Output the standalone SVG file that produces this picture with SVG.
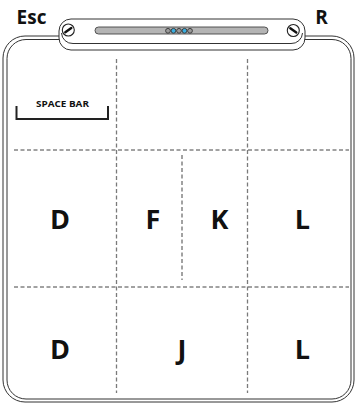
<svg xmlns="http://www.w3.org/2000/svg" width="355" height="403" viewBox="0 0 355 403">
<style>
.edge{fill:none;stroke:#333;stroke-width:1}
.vd{stroke:#7a7a7a;stroke-width:1.3;stroke-dasharray:4 2.5;fill:none}
.hd{stroke:#444;stroke-width:1;stroke-dasharray:4 2.5;fill:none}
.key{font-family:"Open Sans","Liberation Sans",sans-serif;font-weight:700;fill:#111;text-anchor:middle}
.big{font-size:27px}
.lbl{font-size:19px}
.dot{stroke:#333;stroke-width:0.9}
</style>
<rect width="355" height="403" fill="#fff"/>
<g id="body">
<rect class="edge" x="3" y="36" width="351" height="366" rx="22"/>
<rect class="edge" x="7" y="39.5" width="344" height="359.5" rx="19"/>
</g>
<g id="bar">
<path d="M71,19 H293 A12,12 0 0 1 305,31 V38 A12,12 0 0 1 293,50 H71 A12,12 0 0 1 59,38 V31 A12,12 0 0 1 71,19 Z" fill="#fff" stroke="#333" stroke-width="1"/>
<path class="edge" d="M61.5,33 A11,11 0 0 0 73,43.5 H291 A11,11 0 0 0 302.5,33"/>
<rect x="95" y="27" width="173" height="7" rx="3.5" fill="#b4b4b4" stroke="#444" stroke-width="0.9"/>
<circle class="dot" cx="168" cy="30.8" r="2.4" fill="#9a9a9a"/>
<circle class="dot" cx="173.5" cy="30.8" r="2.4" fill="#3aaee0"/>
<circle class="dot" cx="179" cy="30.8" r="2.4" fill="#9a9a9a"/>
<circle class="dot" cx="184.5" cy="30.8" r="2.4" fill="#3aaee0"/>
<circle class="dot" cx="190" cy="30.8" r="2.4" fill="#9a9a9a"/>
</g>
<g id="screw-left">
<circle cx="68.3" cy="30" r="6" fill="#fff" stroke="#222" stroke-width="1.1"/>
<line x1="65.3" y1="32.3" x2="71.3" y2="28" stroke="#111" stroke-width="2.4" stroke-linecap="round"/>
</g>
<g id="screw-right">
<circle cx="293.3" cy="30.5" r="6" fill="#fff" stroke="#222" stroke-width="1.1"/>
<line x1="290.3" y1="28.3" x2="296.3" y2="32.6" stroke="#111" stroke-width="2.4" stroke-linecap="round"/>
</g>
<g id="label-esc"><text class="key lbl" x="31.5" y="24">Esc</text></g>
<g id="label-r"><text class="key lbl" x="321.5" y="24">R</text></g>
<g id="connectors">
<line class="vd" x1="116.5" y1="59" x2="116.5" y2="393"/>
<line class="vd" x1="247.5" y1="59" x2="247.5" y2="393"/>
<line class="hd" x1="14" y1="150" x2="349" y2="150"/>
<line class="hd" x1="14" y1="287" x2="349" y2="287"/>
<line class="hd" x1="182" y1="155" x2="182" y2="280"/>
</g>
<g id="space-bar">
<text class="key" x="62.5" y="107" font-size="9" textLength="53" lengthAdjust="spacingAndGlyphs">SPACE BAR</text>
<path d="M16.5,106 V119 H108 V106" fill="none" stroke="#222" stroke-width="2"/>
</g>
<g id="key-d1"><text class="key big" x="60" y="229">D</text></g>
<g id="key-f"><text class="key big" x="153" y="229">F</text></g>
<g id="key-k"><text class="key big" x="219.5" y="229">K</text></g>
<g id="key-l1"><text class="key big" x="302.5" y="229">L</text></g>
<g id="key-d2"><text class="key big" x="60" y="359">D</text></g>
<g id="key-j"><text class="key big" x="182" y="359">J</text></g>
<g id="key-l2"><text class="key big" x="302.5" y="359">L</text></g>
</svg>
